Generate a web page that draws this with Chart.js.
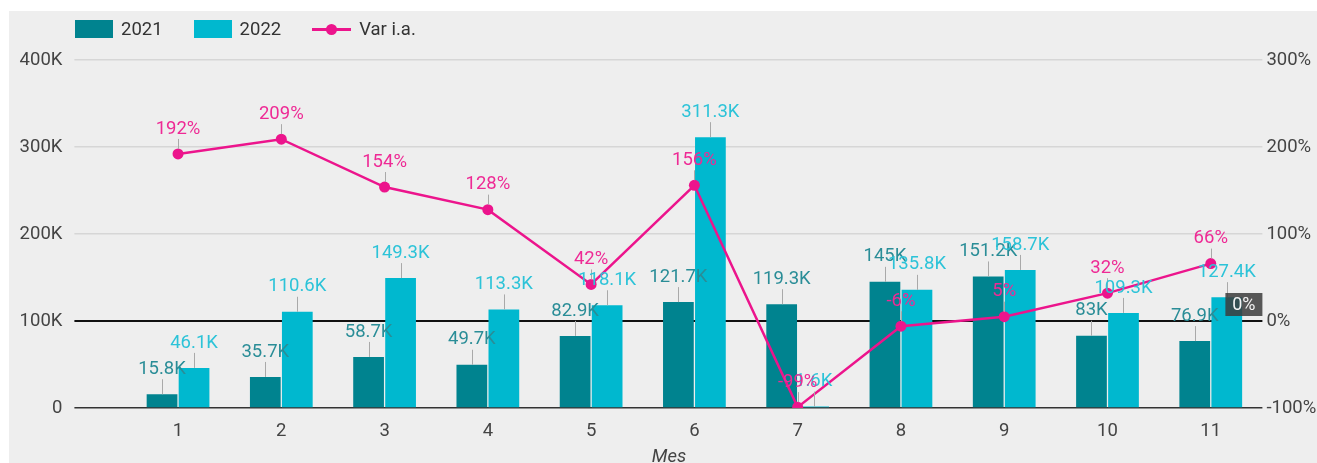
<!DOCTYPE html>
<html>
<head>
<meta charset="utf-8">
<script src="https://cdn.jsdelivr.net/npm/chart.js@4.4.1/dist/chart.umd.min.js"></script>
<style>
  body { margin: 0; background: #fff; width: 1317px; height: 463px; overflow: hidden; font-family: Roboto, sans-serif; }
  #panel { position: absolute; left: 9px; top: 11px; width: 1308px; height: 452px; background: #eeeeee; }
  #chart { position: absolute; left: 0; top: 0; }
  #legend { position: absolute; left: 66px; top: 9px; display: flex; align-items: center; height: 18px; font-size: 18.5px; color: #333; }
  .item { display: flex; align-items: center; margin-right: 31px; }
  .box { width: 38px; height: 18px; margin-right: 8px; }
  .lineMark { position: relative; width: 39px; height: 3px; margin-right: 8px; }
  .lineMark span { position: absolute; left: 14px; top: -4px; width: 11px; height: 11px; border-radius: 50%; }
</style>
</head>
<body>
<div id="panel">
  <canvas id="chart" width="1308" height="452"></canvas>
  <div id="legend"></div>
</div>
<script>
// chart data
const months = ['1', '2', '3', '4', '5', '6', '7', '8', '9', '10', '11'];
const sales2021 = [15800, 35700, 58700, 49700, 82900, 121700, 119300, 145000, 151200, 83000, 76900];
const sales2022 = [46100, 110600, 149300, 113300, 118100, 311300, 1600, 135800, 158700, 109300, 127400];
const varPct = [192, 209, 154, 128, 42, 156, -99, -6, 5, 32, 66];
const leftTicks = [0, 100000, 200000, 300000, 400000];
const rightTicks = [-100, 0, 100, 200, 300];

const teal = '#00838f';
const cyan = '#00b8cf';
const pink = '#ec148c';
const fontFam = 'Roboto, sans-serif';
const fontSize = 18.5;

function fmtK(v) {
    return (v / 1000).toFixed(1).replace(/\.0$/, '') + 'K';
}

// labels above bars / points with a small leader line
const valueLabels = {
    id: 'valueLabels',
    afterDatasetsDraw(chart) {
        const ctx = chart.ctx;
        ctx.save();
        ctx.strokeStyle = '#a9a9a9';
        ctx.lineWidth = 1;
        chart.data.datasets.forEach((ds, i) => {
            chart.getDatasetMeta(i).data.forEach(el => {
                const top = ds.type === 'line' ? el.y - 5 : el.y;
                const x = Math.round(el.x) + 0.5;
                ctx.beginPath();
                ctx.moveTo(x, top);
                ctx.lineTo(x, el.y - 15);
                ctx.stroke();
            });
        });
        ctx.font = fontSize + 'px ' + fontFam;
        ctx.textAlign = 'center';
        ctx.textBaseline = 'middle';
        chart.data.datasets.forEach((ds, i) => {
            ctx.fillStyle = ds.labelColor;
            chart.getDatasetMeta(i).data.forEach((el, j) => {
                const v = ds.data[j];
                const txt = ds.type === 'line' ? v + '%' : fmtK(v);
                ctx.fillText(txt, el.x, el.y - 25);
            });
        });
        ctx.restore();
    },
    afterDraw(chart) {
        const ctx = chart.ctx;
        const area = chart.chartArea;
        const y0 = chart.scales.y1.getPixelForValue(0);
        ctx.save();
        // reference line badge
        ctx.fillStyle = 'rgba(60,60,60,0.85)';
        ctx.fillRect(area.right - 37, y0 - 28, 37, 23);
        ctx.fillStyle = '#f4f4f4';
        ctx.font = '18px ' + fontFam;
        ctx.textAlign = 'center';
        ctx.textBaseline = 'middle';
        ctx.fillText('0%', area.right - 18.5, y0 - 16);
        // axis title
        ctx.fillStyle = '#444';
        ctx.font = 'italic ' + fontSize + 'px ' + fontFam;
        ctx.fillText('Mes', 660, 446);
        ctx.restore();
    }
};

const ctx = document.getElementById('chart').getContext('2d');
const chart = new Chart(ctx, {
    type: 'bar',
    data: {
        labels: months,
        datasets: [
            { label: '2021', data: sales2021, backgroundColor: teal, labelColor: '#2a8d97', yAxisID: 'y', order: 1,
              categoryPercentage: 0.62, barPercentage: 0.96 },
            { label: '2022', data: sales2022, backgroundColor: cyan, labelColor: '#2cc3d8', yAxisID: 'y', order: 1,
              categoryPercentage: 0.62, barPercentage: 0.96 },
            { type: 'line', label: 'Var i.a.', data: varPct, borderColor: pink, backgroundColor: pink, labelColor: '#ee2a95',
              borderWidth: 2.5, pointRadius: 5.5, pointBackgroundColor: pink, pointBorderWidth: 0, tension: 0,
              yAxisID: 'y1', order: 0 }
        ]
    },
    options: {
        responsive: false,
        devicePixelRatio: 1,
        animation: false,
        layout: { padding: { top: 49, left: 0, right: 0, bottom: 0 } },
        plugins: { legend: { display: false }, tooltip: { enabled: false } },
        scales: {
            x: {
                grid: { display: false, drawTicks: false },
                border: { display: false },
                ticks: { color: '#444', font: { family: fontFam, size: fontSize }, padding: 12 },
                afterFit: s => { s.height = 55; }
            },
            y: {
                position: 'left',
                min: 0, max: 400000,
                afterBuildTicks: s => { s.ticks = leftTicks.map(v => ({ value: v })); },
                border: { display: false },
                grid: {
                    tickLength: 52,
                    color: c => c.tick.value === 100000 ? '#111' : (c.tick.value === 0 ? '#333' : '#d6d6d6'),
                    lineWidth: c => c.tick.value === 100000 ? 2 : 1.5
                },
                ticks: {
                    color: '#444', font: { family: fontFam, size: fontSize }, padding: 12,
                    callback: v => v === 0 ? '0' : (v / 1000) + 'K'
                },
                afterFit: s => { s.width = 117.4; }
            },
            y1: {
                position: 'right',
                min: -100, max: 300,
                afterBuildTicks: s => { s.ticks = rightTicks.map(v => ({ value: v })); },
                border: { display: false },
                grid: { display: false, drawTicks: false },
                ticks: {
                    color: '#444', font: { family: fontFam, size: fontSize }, padding: 4,
                    callback: v => v + '%'
                },
                afterFit: s => { s.width = 54.6; }
            }
        }
    },
    plugins: [valueLabels]
});

// html legend built from the datasets
const legend = document.getElementById('legend');
chart.data.datasets.forEach(ds => {
    const item = document.createElement('div');
    item.className = 'item';
    if (ds.type === 'line') {
        item.innerHTML = '<div class="lineMark" style="background:' + ds.borderColor + '"><span style="background:' + ds.borderColor + '"></span></div>';
    } else {
        item.innerHTML = '<div class="box" style="background:' + ds.backgroundColor + '"></div>';
    }
    const t = document.createElement('span');
    t.textContent = ds.label;
    item.appendChild(t);
    legend.appendChild(item);
});
</script>
</body>
</html>
